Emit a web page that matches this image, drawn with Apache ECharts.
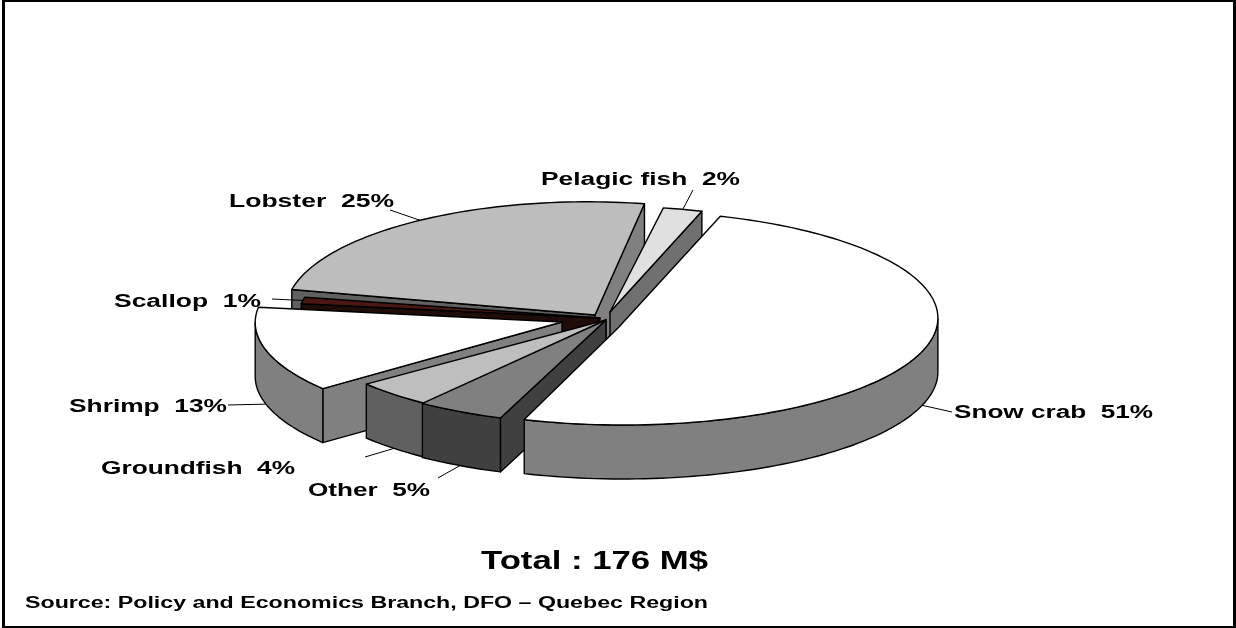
<!DOCTYPE html>
<html>
<head>
<meta charset="utf-8">
<style>html,body{margin:0;padding:0;background:#fff}#c{width:1236px;height:628px}</style>
<script src="https://cdn.jsdelivr.net/npm/echarts@6/dist/echarts.min.js"></script>
</head>
<body>
<div id="c"></div>
<script>
// ---- data (clockwise from the upper right) ----
const categories = ['Snow crab', 'Other', 'Groundfish', 'Shrimp', 'Scallop', 'Lobster', 'Pelagic fish'];
const values = [51, 5, 4, 13, 1, 25, 2];
const totalText = 'Total : 176 M$';
const sourceText = 'Source: Policy and Economics Branch, DFO \u2013 Quebec Region';

// ---- projection / layout ----
const base = { x: 618, y: 318, a: 320, b: 107, depth: 54, startAngle: 72 };
const outerShift = [[5, 0], [-3, 0], [0, 0], [-46, 4.5], [0, 1], [-30.5, -6], [-15, -5]];
const apexShift = [[0, 10], [-12, 2], [-12, 2], [-56, 4], [-18, 0], [-23, -3], [-8, -6]];
const radiusScale = [[0.984, 1], [1, 1], [1, 1], [0.99, 1], [1, 1], [0.944, 1.03], [1, 1]];
// perspective correction of each slice's two screen angles, in degrees
const angleTrim = [[0, 1.5], [-1.2, 0.6], [0.6, 0], [0, 0], [0, 0], [0, 0], [0, 0]];
const drawOrder = [5, 6, 4, 3, 2, 1, 0];
// ---- style ----
const topColors = ['#ffffff', '#808080', '#bebebe', '#ffffff', '#4a1712', '#bdbdbd', '#e0e0e0'];
const wallColors = ['#808080', '#404040', '#606060', '#808080', '#200c08', '#606060', '#707070'];
const cutColors = [['#808080', '#808080'], ['#404040', '#404040'], ['#606060', '#606060'], ['#808080', '#808080'],
  ['#200c08', '#200c08'], ['#606060', '#808080'], ['#707070', '#707070']];
// label: left x, centre y, fitted width, leader start x/y, whether the leader lands on the wall
const labelLayout = [
  [954, 413.5, 199, 952, 412, 1], [308, 491.5, 122, 438, 478, 1], [101, 469.5, 194, 365, 457, 1],
  [69, 407.5, 158, 228, 405, 1], [114, 302.5, 147, 272, 299, 0], [229, 202.5, 165, 390, 210, 0], [541, 180, 199, 693, 190, 0]
];
const frameBars = [[2, 0, 1234, 2], [2, 0, 3, 628], [1233, 0, 3, 628], [2, 626, 1234, 2]];
const FONT = '"Liberation Sans", Arial, sans-serif';

const total = values.reduce((s, v) => s + v, 0);
const measure = document.createElement('canvas').getContext('2d');
function textWidth(t, size) { measure.font = 'bold ' + size + 'px "Liberation Sans"'; return measure.measureText(t).width; }

function angles(i) {
  let a = base.startAngle;
  for (let k = 0; k < i; k++) a -= values[k] / total * 360;
  return [a + angleTrim[i][0], a - values[i] / total * 360 + angleTrim[i][1]];
}
function outerPt(i, deg) {
  const r = deg * Math.PI / 180;
  return [base.x + outerShift[i][0] + base.a * radiusScale[i][0] * Math.cos(r),
          base.y + outerShift[i][1] - base.b * radiusScale[i][1] * Math.sin(r)];
}
function apexPt(i) { return [base.x + apexShift[i][0], base.y + apexShift[i][1]]; }
function arc(i, from, to) {
  const n = Math.max(2, Math.ceil(Math.abs(from - to) / 1.5)), pts = [];
  for (let k = 0; k <= n; k++) pts.push(outerPt(i, from + (to - from) * k / n));
  return pts;
}
const lineStyle = (fill) => ({ fill: fill, stroke: '#000', lineWidth: 1.4, lineJoin: 'round' });
const down = (p) => [p[0], p[1] + base.depth];

function renderSlice(params, api) {
  const i = api.value(0);
  const [a1, a2] = angles(i);
  const apex = apexPt(i), mid = outerPt(i, (a1 + a2) / 2), children = [];
  [a1, a2].forEach((deg, c) => {
    const p = outerPt(i, deg), ex = p[0] - apex[0], ey = p[1] - apex[1];
    let nx = -ey, ny = ex;
    if (nx * (mid[0] - apex[0]) + ny * (mid[1] - apex[1]) > 0) { nx = -nx; ny = -ny; }
    if (ny > 0) children.push({ type: 'polygon', shape: { points: [apex, p, down(p), down(apex)] }, style: lineStyle(cutColors[i][c]) });
  });
  const hi = Math.min(a1, 0), lo = Math.max(a2, -180);
  if (hi > lo) {
    const rim = arc(i, hi, lo);
    children.push({ type: 'polygon', shape: { points: rim.concat(rim.slice().reverse().map(down)) }, style: lineStyle(wallColors[i]) });
  }
  children.push({ type: 'polygon', shape: { points: [apex].concat(arc(i, a1, a2)) }, style: lineStyle(topColors[i]) });
  return { type: 'group', children: children };
}

function renderLabel(params, api) {
  const i = api.value(0), L = labelLayout[i];
  const [a1, a2] = angles(i);
  const m = outerPt(i, (a1 + a2) / 2), end = L[5] ? down(m) : m;
  const text = categories[i] + '  ' + values[i] + '%';
  const size = 18;
  return { type: 'group', children: [
    { type: 'line', shape: { x1: L[3], y1: L[4], x2: end[0], y2: end[1] }, style: { stroke: '#000', lineWidth: 1 } },
    { type: 'text', x: L[0], y: L[1], scaleX: L[2] / textWidth(text, size),
      style: { text: text, x: 0, y: 0, fill: '#000', font: 'bold ' + size + 'px ' + FONT, textAlign: 'left', textVerticalAlign: 'middle' } }
  ]};
}

function fitted(text, x, y, width, size) {
  return { type: 'text', x: x, y: y, scaleX: width / textWidth(text, size), z: 10,
    style: { text: text, x: 0, y: 0, fill: '#000', font: 'bold ' + size + 'px ' + FONT, textAlign: 'left', textVerticalAlign: 'middle' } };
}

const chart = echarts.init(document.getElementById('c'), null, { renderer: 'canvas' });
chart.setOption({
  animation: false,
  backgroundColor: '#fff',
  graphic: frameBars.map(b => ({ type: 'rect', shape: { x: b[0], y: b[1], width: b[2], height: b[3] }, style: { fill: '#000' }, z: 0 })).concat([
    fitted(totalText, 481, 562.5, 227, 25),
    fitted(sourceText, 25, 604, 683, 16)
  ]),
  series: [
    { type: 'custom', coordinateSystem: 'none', silent: true, z: 2, renderItem: renderSlice,
      data: drawOrder.map(i => [i, values[i]]) },
    { type: 'custom', coordinateSystem: 'none', silent: true, z: 3, renderItem: renderLabel,
      data: values.map((v, i) => [i, v]) }
  ]
});
</script>
</body>
</html>
